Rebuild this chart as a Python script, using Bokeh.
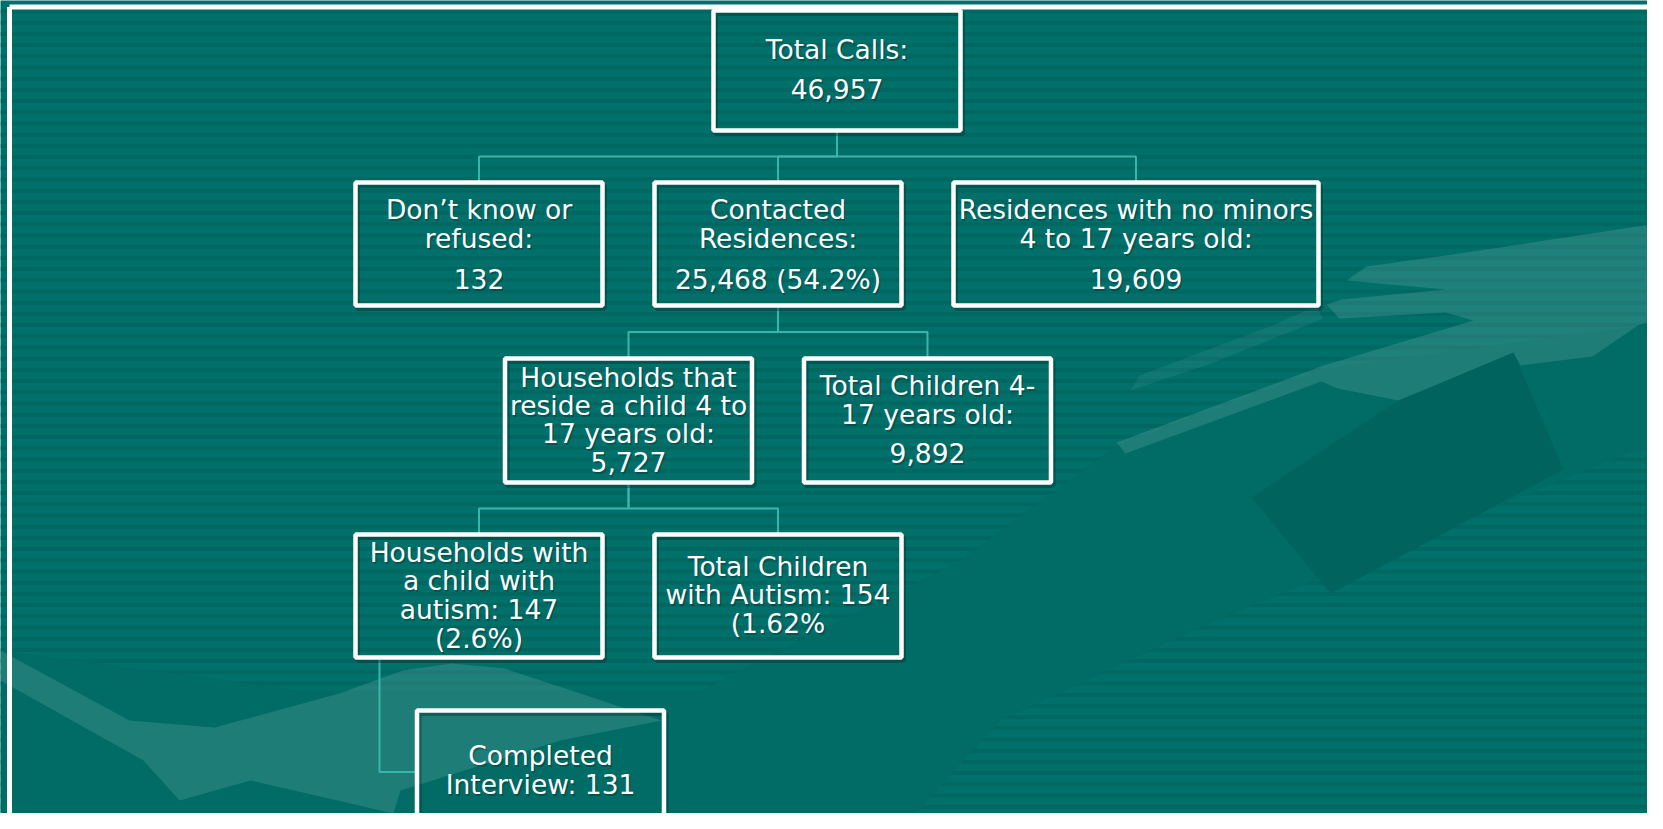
import numpy as np
from bokeh.plotting import figure
from bokeh.models import Range1d
from bokeh.core.properties import value
from bokeh.embed import file_html
from bokeh.resources import INLINE

# ---------------- data ----------------
node_ids = ["total", "unknown", "contacted", "no_minors", "hh_child",
            "children", "hh_autism", "children_autism", "interview"]
node_lines = [
    ["Total Calls:", "46,957"],
    ["Don\u2019t know or", "refused:", "132"],
    ["Contacted", "Residences:", "25,468 (54.2%)"],
    ["Residences with no minors", "4 to 17 years old:", "19,609"],
    ["Households that", "reside a child 4 to", "17 years old:", "5,727"],
    ["Total Children 4-", "17 years old:", "9,892"],
    ["Households with", "a child with", "autism: 147", "(2.6%)"],
    ["Total Children", "with Autism: 154", "(1.62%"],
    ["Completed", "Interview: 131"],
]
node_parent = [None, "total", "total", "total", "contacted", "contacted",
               "hh_child", "hh_child", "hh_autism"]

# ---------------- layout (screen pixels) ----------------
box_cx = [836.5, 478.5, 777.5, 1135.5, 628, 927, 478.5, 777.5, 540]
box_top = [10, 182, 182, 182, 358, 358, 534, 534, 710]
box_w = [247, 247, 247, 365, 247, 247, 247, 247, 247]
box_h = [120, 123, 123, 123, 124, 124, 123, 123, 123]
line_baselines = [
    [58, 98],
    [218, 247, 288],
    [218, 247, 288],
    [218, 247, 288],
    [386, 414, 442, 471],
    [394, 423, 462],
    [561, 589, 618, 647],
    [575, 603, 632],
    [764, 793],
]
TEXT_SHIFT = -9.5
side_connected = {"interview"}

BG = "#02706a"
STRIPE = "#006761"
PLAIN = "#016b65"
LINK = "#38b6ae"
FONT = "DejaVu Sans"
FS = "26.5px"

W, H = 1647, 813
p = figure(width=W, height=H, output_backend="svg", toolbar_location=None,
           x_range=Range1d(0, W), y_range=Range1d(H, 0),
           x_axis_type=None, y_axis_type=None, min_border=0,
           background_fill_color=BG, border_fill_color=BG)
p.min_border_left = p.min_border_right = p.min_border_top = p.min_border_bottom = 0
p.grid.visible = False
p.outline_line_color = None

# background stripes
tops = np.arange(9.0, 840.0, 11.2)
p.quad(left=0, right=1663, top=tops, bottom=tops + 4, fill_color=STRIPE, line_color=None)

# plain (unstriped) arm band
band_x = [0, 300, 700, 960, 1116, 1323, 1663, 1663, 1631, 1208, 1000, 900, 0]
band_y = [650, 690, 690, 560, 445, 368, 322, 448, 451, 623, 720, 829, 829]
p.patch(band_x, band_y, fill_color=PLAIN, line_color=None)

# darker slanted sheet
p.patch([1398, 1513, 1563, 1330, 1251], [400, 352, 469, 593, 497],
        fill_color="#00635e", line_color=None)

# lighter hand / arm silhouettes
hand_xs = [
    [1366, 1459, 1663, 1663, 1639, 1592, 1520, 1513, 1398, 1337, 1321, 1125,
     1116, 1323, 1473, 1445, 1339, 1326, 1341, 1445, 1346],
    [0, 129, 214, 339, 402, 451, 504, 580, 661, 560, 400, 393, 250, 179, 143, 0],
]
hand_ys = [
    [266, 253, 222, 320, 324, 356, 365, 352, 400, 388, 381, 453,
     442, 365, 320, 312, 318, 304, 299, 289, 280],
    [650, 720, 727, 693, 670, 663, 668, 693, 720, 740, 790, 813, 780, 800, 760, 680],
]
p.patches(hand_xs, hand_ys, fill_color="#ffffff", fill_alpha=0.12, line_color=None)
p.patch([1130, 1139, 1272, 1315, 1323, 1208], [390, 375, 325, 306, 318, 364],
        fill_color="#ffffff", fill_alpha=0.06, line_color=None)

# outer frame
p.line([9, 1663], [6.5, 6.5], line_color="white", line_width=5)
p.line([9, 9], [6.5, 829], line_color="white", line_width=5)

# connectors
idx = {n: i for i, n in enumerate(node_ids)}
xs, ys = [], []
for i, par in enumerate(node_parent):
    if par is None:
        continue
    j = idx[par]
    pb = box_top[j] + box_h[j]
    if node_ids[i] in side_connected:
        sx = box_cx[j] - box_w[j] / 2 + 24
        cy = box_top[i] + box_h[i] / 2
        xs.append([sx, sx, box_cx[i] - box_w[i] / 2])
        ys.append([pb, cy, cy])
    else:
        mid = (pb + box_top[i]) / 2
        xs.append([box_cx[j], box_cx[j], box_cx[i], box_cx[i]])
        ys.append([pb, mid, mid, box_top[i]])
p.multi_line(xs, ys, line_color=LINK, line_width=2)

# boxes (shadow + white frame)
cy_list = [t + h / 2 for t, h in zip(box_top, box_h)]
p.rect([x + 2 for x in box_cx], [y + 3 for y in cy_list], box_w, box_h,
       fill_alpha=0, line_color="#00302d", line_alpha=0.4, line_width=5)
p.rect(box_cx, cy_list, box_w, box_h, fill_alpha=0, line_color="white", line_width=4.5)

# texts
tx, ty, tt = [], [], []
for i, lines in enumerate(node_lines):
    for s, b in zip(lines, line_baselines[i]):
        tx.append(box_cx[i])
        ty.append(b + TEXT_SHIFT)
        tt.append(s)
p.text([x + 1.5 for x in tx], [y + 2 for y in ty], text=tt, text_align="center",
       text_baseline="alphabetic", text_font=value(FONT), text_font_size=value(FS),
       text_color="#002624", text_alpha=0.35)
p.text(tx, ty, text=tt, text_align="center", text_baseline="alphabetic",
       text_font=value(FONT), text_font_size=value(FS), text_color="white")

open("out.html", "w").write(file_html(p, INLINE))
